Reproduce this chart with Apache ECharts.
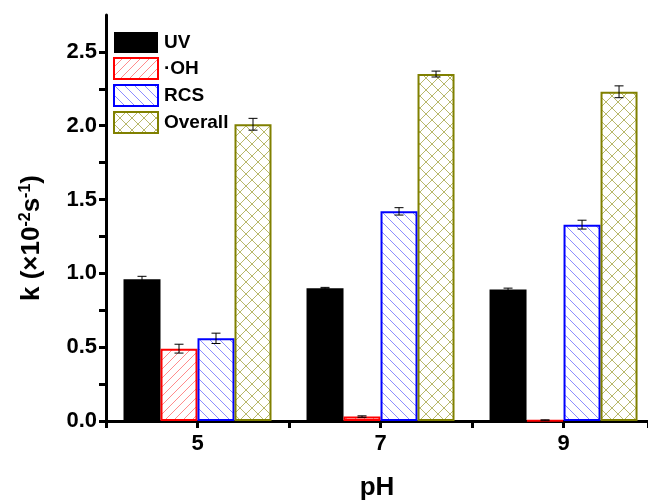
<!DOCTYPE html>
<html>
<head>
<meta charset="utf-8">
<script src="https://cdn.jsdelivr.net/npm/echarts@6/dist/echarts.min.js"></script>
<style>
  html, body { margin: 0; padding: 0; background: #fff; }
  #main { width: 648px; height: 504px; }
</style>
</head>
<body>
<div id="main"></div>
<script>
// pH values and rate constants (×10^-2 s^-1)
var phs = [5, 7, 9];
var names = ['UV', '·OH', 'RCS', 'Overall'];
var uv = [0.96, 0.90, 0.89];
var uvErr = [0.02, 0.005, 0.01];
var oh = [0.49, 0.03, 0.005];
var ohErr = [0.03, 0.005, 0.003];
var rcs = [0.56, 1.42, 1.33];
var rcsErr = [0.035, 0.025, 0.03];
var overall = [2.01, 2.35, 2.23];
var overallErr = [0.04, 0.02, 0.04];

var BAR_W = 37;
var FONT = '"Liberation Sans", Arial, sans-serif';

// hatch tiles
function tile(size, color, draw) {
    var c = document.createElement('canvas');
    c.width = c.height = size;
    var ctx = c.getContext('2d');
    ctx.strokeStyle = color;
    ctx.lineWidth = 1;
    draw(ctx, size);
    return { image: c, repeat: 'repeat' };
}
function fwd(ctx, s) { // "/"
    ctx.beginPath();
    ctx.moveTo(-1, s + 1); ctx.lineTo(s + 1, -1);
    ctx.moveTo(-1, 1); ctx.lineTo(1, -1);
    ctx.moveTo(s - 1, s + 1); ctx.lineTo(s + 1, s - 1);
    ctx.stroke();
}
function back(ctx, s) { // "\"
    ctx.beginPath();
    ctx.moveTo(-1, -1); ctx.lineTo(s + 1, s + 1);
    ctx.moveTo(s - 1, -1); ctx.lineTo(s + 1, 1);
    ctx.moveTo(-1, s - 1); ctx.lineTo(1, s + 1);
    ctx.stroke();
}
var ohFill = tile(9, '#ff8c8c', fwd);
var rcsFill = tile(10, '#8c8cff', back);
var allFill = tile(12, '#b8b86a', function (ctx, s) { fwd(ctx, s); back(ctx, s); });

var fills = ['#000000', ohFill, rcsFill, allFill];
var borders = ['#555555', '#ff0000', '#0000ff', '#808000'];
var values = [uv, oh, rcs, overall];
var errs = [uvErr, ohErr, rcsErr, overallErr];

var series = names.map(function (n, i) {
    return {
        name: n,
        type: 'bar',
        barWidth: BAR_W,
        barGap: '0%',
        data: phs.map(function (p, j) { return [p, values[i][j]]; }),
        itemStyle: {
            color: fills[i],
            borderColor: borders[i],
            borderWidth: i === 0 ? 0 : 2
        },
        emphasis: { disabled: true }
    };
});

var errData = [];
names.forEach(function (n, i) {
    phs.forEach(function (p, j) {
        errData.push([p, values[i][j], errs[i][j], i]);
    });
});

series.push({
    type: 'custom',
    name: 'err',
    z: 10,
    silent: true,
    data: errData,
    renderItem: function (params, api) {
        var x = api.value(0), v = api.value(1), e = api.value(2), k = api.value(3);
        var off = (k - 1.5) * BAR_W;
        var hi = api.coord([x, v + e]);
        var lo = api.coord([x, v - e]);
        var cx = hi[0] + off;
        var cap = 4.5;
        var st = { stroke: '#000', lineWidth: 1, fill: null };
        return {
            type: 'group',
            children: [
                { type: 'line', shape: { x1: cx, y1: hi[1], x2: cx, y2: lo[1] }, style: st },
                { type: 'line', shape: { x1: cx - cap, y1: hi[1], x2: cx + cap, y2: hi[1] }, style: st },
                { type: 'line', shape: { x1: cx - cap, y1: lo[1], x2: cx + cap, y2: lo[1] }, style: st }
            ]
        };
    }
});

var myChart = echarts.init(document.getElementById('main'));
var option = {
    animation: false,
    backgroundColor: '#fff',
    grid: { left: 106, right: 0, top: 15, bottom: 83, containLabel: false, outerBoundsMode: 'none' },
    legend: {
        data: names.map(function (n) { return { name: n, icon: 'rect' }; }),
        orient: 'vertical',
        left: 113,
        top: 32,
        padding: 0,
        itemWidth: 44,
        itemHeight: 21,
        itemGap: 4,
        selectedMode: false,
        textStyle: { fontFamily: FONT, fontWeight: 'bold', fontSize: 19, color: '#000', padding: [0, 0, 0, 1] }
    },
    xAxis: {
        type: 'value',
        min: 4,
        max: 9.923,
        interval: 1,
        name: 'pH',
        nameLocation: 'middle',
        nameGap: 54,
        nameTextStyle: { fontFamily: FONT, fontWeight: 'bold', fontSize: 26, color: '#000' },
        axisLine: { show: true, lineStyle: { color: '#000', width: 3 } },
        axisTick: { show: true, length: 7, lineStyle: { color: '#000', width: 3 } },
        axisLabel: {
            margin: 12,
            fontFamily: FONT, fontWeight: 'bold', fontSize: 22, color: '#000',
            formatter: function (v) { return phs.indexOf(v) >= 0 ? String(v) : ''; }
        },
        splitLine: { show: false }
    },
    yAxis: {
        type: 'value',
        min: 0,
        max: 2.75,
        interval: 0.25,
        name: '{a|k (×10}{s|-2}{a|s}{s|-1}{a|)}',
        nameLocation: 'middle',
        nameRotate: 90,
        nameGap: 60,
        nameTextStyle: {
            padding: [0, 40, 0, 0],
            rich: {
                a: { fontFamily: FONT, fontWeight: 'bold', fontSize: 26, color: '#000' },
                s: { fontFamily: FONT, fontWeight: 'bold', fontSize: 16, color: '#000', verticalAlign: 'top', padding: [0, 0, 12, 0] }
            }
        },
        axisLine: { show: true, lineStyle: { color: '#000', width: 3 } },
        axisTick: { show: true, length: 7, lineStyle: { color: '#000', width: 3 } },
        axisLabel: {
            margin: 9,
            showMaxLabel: false,
            fontFamily: FONT, fontWeight: 'bold', fontSize: 22, color: '#000',
            formatter: function (v) {
                return Math.abs(v * 2 - Math.round(v * 2)) < 1e-6 ? v.toFixed(1) : '';
            }
        },
        splitLine: { show: false }
    },
    series: series
};
myChart.setOption(option);
</script>
</body>
</html>
